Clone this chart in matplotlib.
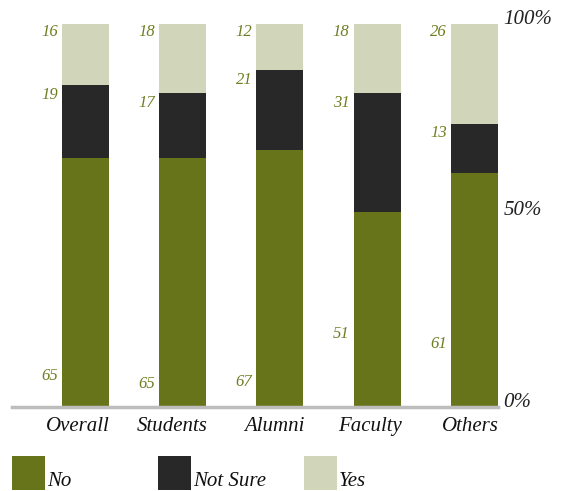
import numpy as np
import matplotlib.pyplot as plt
from matplotlib.patches import Rectangle

# survey answers, percent of respondents
groups   = ["Overall", "Students", "Alumni", "Faculty", "Others"]
no       = [65, 65, 67, 51, 61]
not_sure = [19, 17, 21, 31, 13]
yes      = [16, 18, 12, 18, 26]
pct_ticks = [0, 50, 100]

# where the "No" numbers sit, as a fraction of the bar height
no_label_pos = [0.08, 0.06, 0.065, 0.19, 0.165]

c_no   = "#67741a"
c_ns   = "#282828"
c_yes  = "#d1d5ba"
c_num  = "#6f7d22"

plt.rcParams['font.family'] = ['Liberation Serif', 'DejaVu Serif']
plt.rcParams['font.style'] = 'italic'

W, H = 569, 491
fig = plt.figure(figsize=(W / 100, H / 100), dpi=100)
ax = fig.add_axes([12 / W, (H - 407) / H, (498 - 12) / W, (407 - 24) / H])

x = np.arange(len(groups))
tot = np.array(no) + np.array(not_sure) + np.array(yes)
p_no  = np.array(no) / tot
p_ns  = np.array(not_sure) / tot
p_yes = np.array(yes) / tot

bw = 0.485
ax.bar(x, p_no, bw, color=c_no)
ax.bar(x, p_ns, bw, bottom=p_no, color=c_ns)
ax.bar(x, p_yes, bw, bottom=p_no + p_ns, color=c_yes)

ax.set_xlim(-0.758, 4.245)
ax.set_ylim(0, 1)

for i in range(len(groups)):
	lx = x[i] - bw / 2 - 0.04
	ax.text(lx, 1.0, str(yes[i]), ha='right', va='top', fontsize=12, color=c_num)
	ax.text(lx, 1.0 - p_yes[i] - 0.005, str(not_sure[i]), ha='right', va='top', fontsize=12, color=c_num)
	ax.text(lx, no_label_pos[i], str(no[i]), ha='right', va='center', fontsize=12, color=c_num)
	ax.text(x[i] + bw / 2 + 0.01, -0.025, groups[i], ha='right', va='top', fontsize=15, color="#111111")

for t in pct_ticks:
	ax.text(4.3, t / 100 + 0.012, "%d%%" % t, ha='left', va='center', fontsize=15, color="#222222")

for s in ["top", "left", "right"]:
	ax.spines[s].set_visible(False)
ax.spines["bottom"].set_color("#bdbdbd")
ax.spines["bottom"].set_linewidth(2.5)
ax.set_xticks([])
ax.set_yticks([])

# legend drawn by hand: square with the label sitting at its bottom right
legend = [("No", c_no, 12), ("Not Sure", c_ns, 158), ("Yes", c_yes, 304)]
for name, col, lx in legend:
	fig.add_artist(Rectangle((lx / W, (H - 490) / H), 33 / W, 34 / H,
		transform=fig.transFigure, color=col, lw=0))
	fig.text((lx + 35) / W, (H - 486) / H, name, ha='left', va='baseline',
		fontsize=15, color="#111111")

fig.savefig("out.png", dpi=100)
